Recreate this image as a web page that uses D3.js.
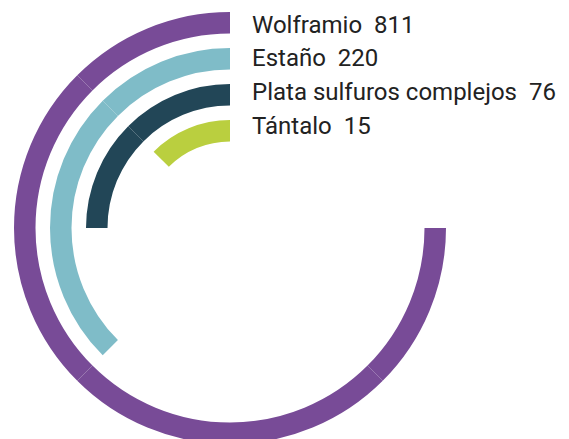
<!DOCTYPE html>
<html>
<head>
<meta charset="utf-8">
<script src="https://cdn.jsdelivr.net/npm/d3@7"></script>
<style>
  html, body { margin: 0; padding: 0; background: #fff; }
  svg { display: block; }
  text { font-family: Roboto, "Noto Sans", sans-serif; white-space: pre; }
</style>
</head>
<body>
<svg id="chart" width="569" height="439"></svg>
<script>
// Production by mineral
const minerals = ["Wolframio", "Estaño", "Plata sulfuros complejos", "Tántalo"];
const values = [811, 220, 76, 15];
const colors = ["#784b97", "#7fbcc8", "#224657", "#bacf3f"];

const width = 569, height = 439;
const cx = 230, cy = 228;
const svg = d3.select("#chart");

// Each ring is built from 45° pieces; the number of pieces follows a sqrt scale
const STEP = Math.PI / 4;
const pieces = d3.scaleSqrt().domain([0, d3.max(values)]).range([0, 6]);

// Outer radius of each ring, outermost first; all rings share one thickness
const outerR = d3.scalePoint().domain(minerals).range([216, 108]);
const thickness = 21.5;

const g = svg.append("g").attr("transform", `translate(${cx},${cy})`);
const arc = d3.arc();

minerals.forEach((m, i) => {
  const outer = outerR(m);
  const inner = outer - thickness;
  const n = Math.round(pieces(values[i]));
  const segs = d3.range(n).map(k => ({
    innerRadius: inner,
    outerRadius: outer,
    // counter-clockwise from 12 o'clock
    startAngle: -(k + 1) * STEP,
    endAngle: -k * STEP
  }));
  g.selectAll(null).data(segs).enter().append("path")
    .attr("d", arc)
    .attr("fill", colors[i]);
});

// Labels to the right of each ring start
const rowY = d3.scalePoint().domain(minerals).range([32.5, 134]);
svg.append("g").selectAll("text").data(minerals).enter().append("text")
  .attr("x", 252)
  .attr("y", d => rowY(d))
  .attr("font-size", 24)
  .attr("fill", "#222")
  .text((d, i) => `${d}  ${values[i]}`);
</script>
</body>
</html>
